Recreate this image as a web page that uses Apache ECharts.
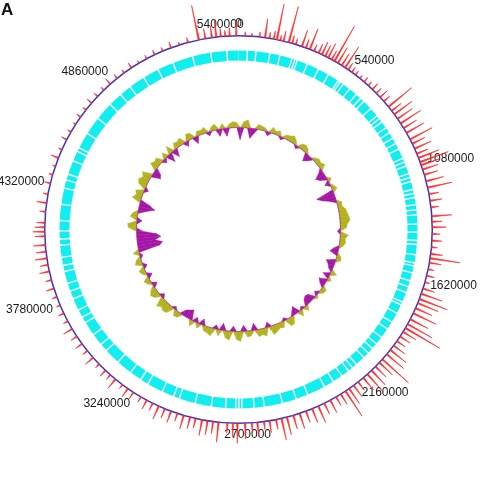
<!DOCTYPE html>
<html lang="en">
<head>
    <meta charset="UTF-8">
    <title>genome circle</title>
    <script src="https://cdn.jsdelivr.net/npm/echarts@6/dist/echarts.min.js"></script>
    <style>
        html, body { margin: 0; padding: 0; background: #fff; }
        #chart { width: 482px; height: 480px; }
    </style>
</head>
<body>
<div id="chart"></div>
<script>
    // genome size and tick step (bp)
    var genomeLen = 5480000;
    var tickStep = 540000;

    // outer red spikes: [position bp, height]
    var spikePos = [30000, 60000, 95000, 120000, 140000, 160000, 174000, 190000, 205000, 229000, 245000, 262000,
        291000, 310000, 329000, 350000, 372000, 388000, 405000, 420000, 438000, 452000, 470000, 490000, 508000,
        525000, 545000, 565000, 590000, 615000, 640000, 665000, 690000, 715000, 740000, 772000, 795000, 815000,
        840000, 865000, 890000, 915000, 948000, 970000, 995000, 1020000, 1040000, 1060000, 1075000, 1095000,
        1120000, 1150000, 1180000, 1210000, 1240000, 1270000, 1310000, 1335000, 1360000,
        1390000, 1420000, 1450000, 1480000, 1500000, 1520000, 1550000, 1580000, 1610000, 1640000, 1665000,
        1690000, 1710000, 1735000, 1760000, 1790000, 1815000, 1835000, 1855000, 1880000, 1905000, 1930000,
        1955000, 1980000, 2010000, 2030000, 2055000, 2080000, 2105000, 2130000, 2160000, 2185000, 2210000,
        2230000, 2255000, 2280000, 2310000, 2340000, 2370000, 2400000, 2430000, 2460000, 2490000, 2520000,
        2545000, 2570000, 2600000, 2625000, 2655000, 2680000, 2710000,
        2745000, 2765000, 2790000, 2830000, 2855000, 2880000, 2905000, 2935000, 2960000, 2990000, 3020000,
        3050000, 3080000, 3110000, 3140000, 3170000, 3200000, 3240000, 3270000, 3300000, 3340000, 3370000,
        3400000, 3440000, 3480000, 3520000, 3560000, 3600000, 3640000, 3680000, 3720000, 3760000, 3800000,
        3840000, 3880000, 3920000, 3950000, 3980000, 4010000, 4040000, 4080000, 4100000, 4120000, 4140000,
        4190000, 4230000, 4270000, 4320000, 4360000, 4400000, 4440000, 4480000, 4530000, 4570000, 4610000,
        4650000, 4690000, 4730000, 4770000, 4810000, 4850000, 4890000, 4930000, 4970000, 5010000, 5050000,
        5090000, 5130000, 5170000, 5210000, 5250000, 5300000, 5330000, 5360000, 5380000, 5400000, 5420000,
        5440000, 5470000];
    var spikeHeight = [4, 3, 5, 19, 6, 8, 36, 5, 10, 37, 8, 6,
        17, 9, 22, 7, 10, 14, 12, 16, 10, 40, 18, 14, 25,
        8, 6, 5, 4, 6, 5, 8, 7, 10, 8, 30, 12, 22,
        18, 24, 15, 20, 25, 14, 18, 12, 22, 30, 20, 16,
        14, 18, 25, 10, 12, 8, 20, 10, 14,
        8, 10, 6, 12, 30, 12, 6, 8, 5, 12, 22,
        30, 22, 18, 25, 20, 28, 40, 15, 12, 10, 14,
        20, 22, 35, 18, 15, 20, 24, 16, 10, 14, 18,
        30, 12, 10, 14, 12, 18, 15, 12, 16, 14, 18,
        22, 10, 12, 8, 14, 10, 16,
        20, 14, 10, 20, 12, 14, 16, 10, 12, 14, 8,
        12, 10, 14, 8, 10, 6, 8, 10, 5, 12, 6,
        8, 5, 10, 6, 8, 7, 10, 5, 6, 4, 5,
        8, 6, 10, 8, 12, 10, 12, 10, 12, 10, 8,
        6, 10, 5, 6, 4, 3, 8, 4, 6, 4, 3,
        5, 4, 6, 5, 4, 7, 5, 4, 6, 3, 4,
        5, 4, 6, 3, 5, 35, 10, 12, 18, 8, 6,
        8, 15];

    // gaps between gene blocks on the cyan ring (bp)
    var geneGaps = [40000, 82000, 150000, 200000, 261000, 276000, 288000, 340000, 400000, 455000, 511000,
        523000, 541000, 580000, 622000, 650000, 672000, 720000, 767000, 785000, 805000, 840000, 869000,
        900000, 930000, 960000, 1010000, 1030000, 1050000, 1090000, 1110000, 1130000, 1170000, 1190000,
        1210000, 1245000, 1270000, 1295000, 1340000,
        1380000, 1420000, 1440000, 1490000, 1530000, 1545000, 1580000, 1620000, 1650000, 1680000, 1730000,
        1745000, 1790000, 1840000, 1880000, 1930000, 1970000, 2000000, 2030000, 2060000, 2110000, 2135000,
        2160000, 2200000, 2250000, 2300000, 2390000, 2450000, 2520000, 2610000, 2660000, 2720000, 2735000,
        2750000,
        2800000, 2870000, 2950000, 3030000, 3060000, 3120000, 3200000, 3240000, 3300000, 3380000, 3460000,
        3500000, 3560000, 3630000, 3660000, 3700000, 3760000, 3800000, 3840000, 3900000, 3930000, 3970000,
        4030000, 4060000,
        4100000, 4150000, 4230000, 4310000, 4350000, 4380000, 4450000, 4500000, 4520000, 4600000, 4690000,
        4780000, 4850000, 4910000, 4990000, 5070000, 5150000, 5250000, 5340000, 5420000];
    var gapWidth = 7000;

    // inner GC ring, one value per 2 degree window
    var gcWindow = genomeLen / 180;
    var gcValues = [
        -12, 6, 8, -10, -5, 5, 4, 3, -4, 6,
        3, 5, -3, 4, 5, 7, 4, -3, 5, 6,
        4, -8, -5, 3, 5, 4, 6, -4, -10, -7,
        4, -5, 3, 5, -18, -14, -6, 5, 4, 7,
        8, 9, 10, 7, 6, -3, 8, 5, 6, 4,
        -5, -8, 4, 5, -9, -6, -4, 6, -7, 4,
        -8, -5, 5, 4, -4, 3, -7, -8, -6, 5,
        -3, 6, -8, -4, 7, 8, -3, 6, 5, 7,
        9, -5, 8, 6, 7, -7, 5, 6, -6, 10,
        8, -5, 9, 7, -7, 6, -4, 8, 6, 5,
        -6, 5, -5, 6, -10, -8, -6, 5, 6, -3,
        8, 9, 7, 10, -4, 6, 8, 5, -5, 4,
        6, -5, 4, 6, -4, 7, 5, -3, 6, -22,
        -25, -18, -24, -20, -6, 8, 9, -5, 7, 5,
        -8, -16, -10, 9, 6, 8, -4, 8, 10, 7,
        10, -9, -7, 8, 6, 7, -4, 6, -9, 8,
        -8, 6, 5, 7, -5, 7, 6, -7, 5, 4,
        6, -4, 4, 6, -7, 5, -8, 4, 6, 5
    ];

    var center = [238.5, 229.5];

    var spikeData = spikePos.map(function (p, i) { return [spikeHeight[i], p]; });

    var geneBlocks = [];
    var prev = 0;
    geneGaps.forEach(function (g) {
        geneBlocks.push([0.5, prev, g]);
        prev = g + gapWidth;
    });
    geneBlocks.push([0.5, prev, genomeLen]);

    // each item joins window i to window i+1: [v_i, centre_i, v_next, centre_next]
    var gcData = gcValues.map(function (v, i) {
        var n = (i + 1) % gcValues.length;
        return [v, (i + 0.5) * gcWindow, gcValues[n], (i + 1.5) * gcWindow];
    });

    function angleOf(pt, cs) {
        return Math.atan2(pt[1] - cs.cy, pt[0] - cs.cx);
    }

    var myChart = echarts.init(document.getElementById('chart'));

    var option = {
        animation: false,
        graphic: [{
            type: 'text', left: 1, top: 2,
            style: { text: 'A', fontSize: 17, fontWeight: 'bold', fill: '#111', fontFamily: 'Liberation Sans' }
        }],
        polar: [
            { center: center, radius: [0, 193.8] },
            { center: center, radius: [193.8, 245] },
            { center: center, radius: [169, 179] },
            { center: center, radius: [72, 117] }
        ],
        angleAxis: [
            {
                polarIndex: 0, type: 'value', min: 0, max: genomeLen, interval: tickStep,
                startAngle: 90, clockwise: true,
                axisLine: { lineStyle: { color: '#3434c8', width: 1.5 } },
                axisTick: { show: false },
                axisLabel: {
                    show: true, margin: 6, color: '#1a1a1a', fontSize: 12, fontFamily: 'Liberation Sans',
                    formatter: function (v) { return String(v); }
                },
                splitLine: { show: false }
            },
            { polarIndex: 1, type: 'value', min: 0, max: genomeLen, startAngle: 90, clockwise: true, show: false },
            { polarIndex: 2, type: 'value', min: 0, max: genomeLen, startAngle: 90, clockwise: true, show: false },
            { polarIndex: 3, type: 'value', min: 0, max: genomeLen, startAngle: 90, clockwise: true, show: false }
        ],
        radiusAxis: [
            { polarIndex: 0, type: 'value', min: 0, max: 1, show: false },
            { polarIndex: 1, type: 'value', min: 0, max: 51.2, show: false },
            { polarIndex: 2, type: 'value', min: 0, max: 1, show: false },
            { polarIndex: 3, type: 'value', min: -30, max: 15, show: false }
        ],
        series: [
            {
                // gene blocks
                type: 'custom', coordinateSystem: 'polar', polarIndex: 2, clip: false, z: 2,
                data: geneBlocks,
                renderItem: function (params, api) {
                    var cs = params.coordSys;
                    var a0 = angleOf(api.coord([0.5, api.value(1)]), cs);
                    var a1 = angleOf(api.coord([0.5, api.value(2)]), cs);
                    if (a1 < a0) a1 += Math.PI * 2;
                    return {
                        type: 'sector',
                        shape: { cx: cs.cx, cy: cs.cy, r0: cs.r0, r: cs.r, startAngle: a0, endAngle: a1, clockwise: true },
                        style: { fill: '#10eef0' }
                    };
                }
            },
            {
                // red spikes on the outer ring
                type: 'custom', coordinateSystem: 'polar', polarIndex: 1, clip: false, z: 1,
                data: spikeData,
                renderItem: function (params, api) {
                    var h = api.value(0), p = api.value(1);
                    var hw = 3500;
                    return {
                        type: 'polygon',
                        shape: { points: [api.coord([0, p - hw]), api.coord([h, p]), api.coord([0, p + hw])] },
                        style: { fill: '#ff2a2a', stroke: '#ff2a2a', lineWidth: 0.6 }
                    };
                }
            },
            {
                // inner GC ring: olive above the baseline, purple below
                type: 'custom', coordinateSystem: 'polar', polarIndex: 3, clip: false, z: 2,
                data: gcData,
                renderItem: function (params, api) {
                    var v0 = api.value(0), p0 = api.value(1), v1 = api.value(2), p1 = api.value(3);
                    var up0 = Math.max(v0, 0), up1 = Math.max(v1, 0);
                    var dn0 = Math.min(v0, 0), dn1 = Math.min(v1, 0);
                    var b0 = api.coord([0, p0]), b1 = api.coord([0, p1]);
                    return {
                        type: 'group',
                        children: [{
                            type: 'polygon',
                            shape: { points: [b0, api.coord([up0, p0]), api.coord([up1, p1]), b1] },
                            style: { fill: '#b2b21c', stroke: '#b2b21c', lineWidth: 0.4 }
                        }, {
                            type: 'polygon',
                            shape: { points: [b0, api.coord([dn0, p0]), api.coord([dn1, p1]), b1] },
                            style: { fill: '#a614a6', stroke: '#a614a6', lineWidth: 0.4 }
                        }]
                    };
                }
            }
        ]
    };

    myChart.setOption(option);
</script>
</body>
</html>
